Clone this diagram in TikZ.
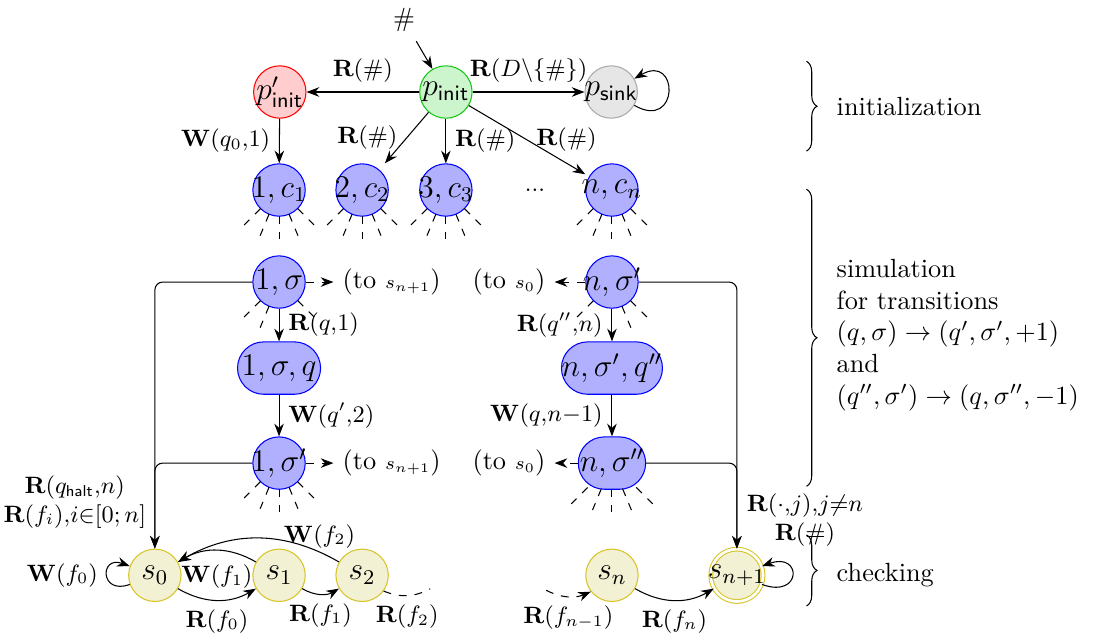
\documentclass[tikz,border=0pt]{standalone}
\usepackage{amsmath,amssymb}
\usepackage{xcolor}
\usepackage{tikz}
\usetikzlibrary{arrows.meta,calc,decorations.pathreplacing,positioning}
\definecolor{tapefill}{RGB}{176,176,255}
\definecolor{initfill}{RGB}{205,245,205}
\definecolor{initline}{RGB}{20,200,20}
\definecolor{errfill}{RGB}{255,205,205}
\definecolor{sinkfill}{RGB}{230,230,230}
\definecolor{sinkline}{RGB}{170,170,170}
\definecolor{chkfill}{RGB}{243,241,212}
\definecolor{chkline}{RGB}{214,196,40}
\newcommand{\slabel}[1]{\makebox[0pt]{$#1$}}

\begin{document}
\begin{tikzpicture}[
  state/.style={circle,draw,minimum size=7mm,inner sep=0pt,font=\large},
  tape/.style={draw=blue,fill=tapefill,rounded corners=3.5mm,minimum height=7mm,
               minimum width=7mm,inner sep=0pt,font=\large},
  chk/.style={state,draw=chkline,fill=chkfill},
  arr/.style={-{Stealth[length=1.7mm]}},
  lbl/.style={font=\small},
  ray/.style={dashed},
  brc/.style={decorate,decoration={brace,amplitude=4pt}}
]
\useasboundingbox (0,0) rectangle (14.61,-8.52);

% initialization
\node (hash) at (5.40,-0.27) {$\#$};
\node[state,draw=initline,fill=initfill] (pinit) at (5.96,-1.23) {\slabel{p_{\mathsf{init}}}};
\node[state,draw=red,fill=errfill] (pinitp) at (3.74,-1.23) {\slabel{p'_{\mathsf{init}}}};
\node[state,draw=sinkline,fill=sinkfill] (psink) at (8.17,-1.23) {\slabel{p_{\mathsf{sink}}}};
\draw[arr] (hash) -- (pinit);
\draw[arr] (pinit) -- node[lbl,above]{$\mathbf{R}(\#)$} (pinitp);
\draw[arr] (pinit) -- node[lbl,above]{$\mathbf{R}(D\backslash\{\#\})$} (psink);
\draw[arr] (psink) to[out=-30,in=30,looseness=5] (psink);

% cells
\node[tape] (c1) at (3.73,-2.54) {\slabel{1,c_1}};
\node[tape] (c2) at (4.84,-2.54) {\slabel{2,c_2}};
\node[tape] (c3) at (5.96,-2.54) {\slabel{3,c_3}};
\node (dots) at (7.15,-2.54) {\small ...};
\node[tape] (cn) at (8.18,-2.54) {\slabel{n,c_n}};
\draw[arr] (pinitp) -- node[lbl,left]{$\mathbf{W}(q_0{,}1)$} (c1);
\draw[arr] (pinit) -- node[lbl,left]{$\mathbf{R}(\#)$} (c2);
\draw[arr] (pinit) -- node[lbl,right]{$\mathbf{R}(\#)$} (c3);
\draw[arr] (pinit) -- node[lbl,right]{$\mathbf{R}(\#)$} (cn);

% simulation
\node[tape] (tape1) at (3.73,-3.77) {\slabel{1,\sigma}};
\node[tape,minimum width=11.1mm] (tapeq1) at (3.73,-4.92) {\slabel{1,\sigma,q}};
\node[tape] (tapeb1) at (3.73,-6.19) {\slabel{1,\sigma'}};
\node[tape] (tapen) at (8.18,-3.77) {\slabel{n,\sigma'}};
\node[tape,minimum width=13.5mm] (tapeqn) at (8.18,-4.92) {\slabel{n,\sigma',q''}};
\node[tape,minimum width=9mm] (tapebn) at (8.18,-6.19) {\slabel{n,\sigma''}};
\node[right=3.7mm of tape1] (to1) {(to ${\scriptstyle s_{n+1}}$)};
\node[right=3.7mm of tapeb1] (to2) {(to ${\scriptstyle s_{n+1}}$)};
\node[left=4.1mm of tapen] (tos0a) {(to ${\scriptstyle s_0}$)};
\node[left=3.1mm of tapebn] (tos0b) {(to ${\scriptstyle s_0}$)};
\draw[arr] (tape1) -- node[lbl,right]{$\mathbf{R}(q{,}1)$} (tapeq1);
\draw[arr] (tapeq1) -- node[lbl,right]{$\mathbf{W}(q'{,}2)$} (tapeb1);
\draw[arr] (tapen) -- node[lbl,left]{$\mathbf{R}(q''{,}n)$} (tapeqn);
\draw[arr] (tapeqn) -- node[lbl,left]{$\mathbf{W}(q{,}n{-}1)$} (tapebn);
\draw[arr,dashed] (tape1) -- (to1);
\draw[arr,dashed] (tapeb1) -- (to2);
\draw[arr,dashed] (tapen) -- (tos0a);
\draw[arr,dashed] (tapebn) -- (tos0b);

% other transitions
\foreach \n in {c1,c2,c3,cn,tapeb1}
  \foreach \a in {225,247.5,270,292.5,315}
    \draw[ray] ($(\n)+(\a:3.5mm)$) -- ($(\n)+(\a:6.6mm)$);
\foreach \a in {225,247.5,315}
  \draw[ray] ($(tape1)+(\a:3.5mm)$) -- ($(tape1)+(\a:6.6mm)$);
\foreach \a in {225,292.5,315}
  \draw[ray] ($(tapen)+(\a:3.5mm)$) -- ($(tapen)+(\a:6.6mm)$);
\foreach \a/\r in {225/4.6,247.5/3.7,270/3.5,292.5/3.7,315/4.6}
  \draw[ray] ($(tapebn)+(\a:\r mm)$) -- ($(tapebn)+(\a:\r mm+3.1mm)$);

% checking
\node[chk] (s0) at (2.07,-7.69) {\slabel{s_0}};
\node[chk] (s1) at (3.73,-7.69) {\slabel{s_1}};
\node[chk] (s2) at (4.84,-7.69) {\slabel{s_2}};
\node[chk] (sn) at (8.18,-7.69) {\slabel{s_n}};
\node[chk,double,double distance=1pt] (snn) at (9.85,-7.69) {\slabel{s_{n+1}}};
\coordinate (s2out) at (5.75,-7.87);
\coordinate (snin) at (7.30,-7.89);
\node[lbl,align=center] (haltlbl) at (1.00,-6.71)
  {$\mathbf{R}(q_{\mathsf{halt}}{,}n)$\\$\mathbf{R}(f_i){,}i{\in}[0;n]$};
\node[lbl,align=center] (jlbl) at (10.76,-6.95)
  {$\mathbf{R}(\cdot{,}j){,}j{\neq}n$\\$\mathbf{R}(\#)$};
\draw[arr,rounded corners=3pt] (tape1.west) -| (s0.north);
\draw[arr,rounded corners=3pt] (tapeb1.west) -| (s0.north);
\draw[arr,rounded corners=3pt] (tapen.east) -| (snn.north);
\draw[arr,rounded corners=3pt] (tapebn.east) -| (snn.north);
\draw[arr] (s0) to[out=-160,in=160,looseness=4.5]
  node[lbl,left]{$\mathbf{W}(f_0)$} (s0);
\draw[arr] (s0) to[bend right=30] node[lbl,below]{$\mathbf{R}(f_0)$} (s1);
\draw[arr] (s1) to[bend right=30] node[lbl,below,yshift=-2pt]{$\mathbf{W}(f_1)$} (s0);
\draw[arr] (s1) to[bend right=30] node[lbl,below]{$\mathbf{R}(f_1)$} (s2);
\draw[arr] (s2) to[bend right=30] node[lbl,above,pos=0.12,yshift=-2pt]{$\mathbf{W}(f_2)$} (s0);
\draw[dashed] (s2) to[bend right=25] node[lbl,below]{$\mathbf{R}(f_2)$} (s2out);
\draw[arr,dashed] (snin) to[bend right=25] node[lbl,below]{$\mathbf{R}(f_{n-1})$} (sn);
\draw[arr] (sn) to[bend right=30] node[lbl,below]{$\mathbf{R}(f_n)$} (snn);
\draw[arr] (snn) to[out=-20,in=20,looseness=6] (snn);

% phases
\draw[brc] (10.78,-0.82) -- (10.78,-2.02);
\draw[brc] (10.78,-2.53) -- (10.78,-6.50);
\draw[brc] (10.78,-7.15) -- (10.78,-8.10);
\node[anchor=west] (initlbl) at (11.06,-1.42) {initialization};
\node[anchor=west,align=left] (simlbl) at (11.06,-4.48)
  {simulation\\for transitions\\$(q,\sigma)\to(q',\sigma',+1)$\\and\\$(q'',\sigma')\to(q,\sigma'',-1)$};
\node[anchor=west] (chklbl) at (11.06,-7.69) {checking};
\end{tikzpicture}
\end{document}
